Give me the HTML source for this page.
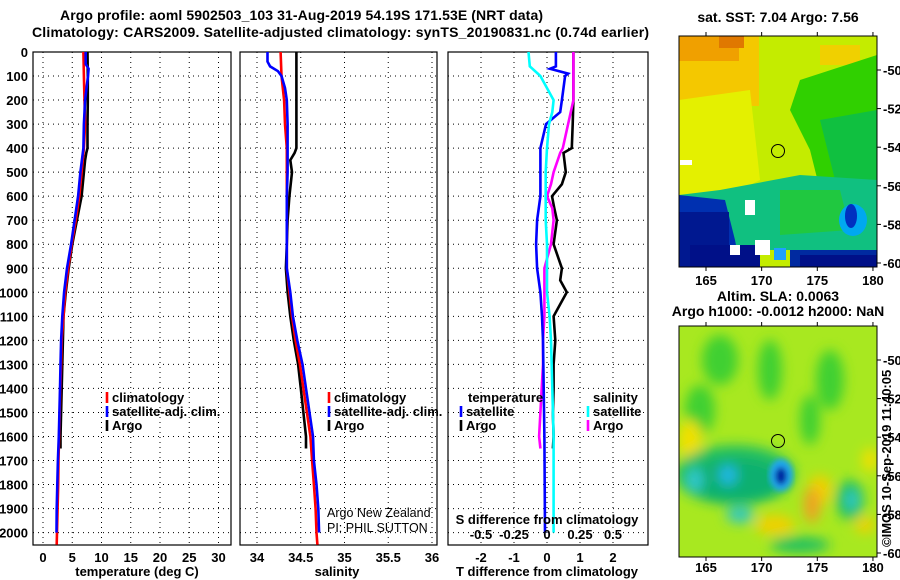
<!DOCTYPE html>
<html><head><meta charset="utf-8">
<style>
html,body{margin:0;padding:0;background:#fff;}
svg{display:block;font-family:"Liberation Sans",sans-serif;}
.t{font-weight:bold;font-size:13px;}
.ttl{font-weight:bold;font-size:14px;}
.grid{stroke:#000;stroke-width:1;stroke-dasharray:1,4;}
</style></head>
<body>
<svg id="chart" width="900" height="580" viewBox="0 0 900 580">
  <defs>
    <filter id="blur3"><feGaussianBlur stdDeviation="3"/></filter>
    <filter id="blur6"><feGaussianBlur stdDeviation="6"/></filter>
    <clipPath id="m1c"><rect x="679" y="36" width="198" height="231"/></clipPath>
    <clipPath id="m2c"><rect x="679" y="326" width="198" height="231"/></clipPath>
  </defs>
  <text class="ttl" x="60" y="20" textLength="483">Argo profile: aoml 5902503_103 31-Aug-2019 54.19S 171.53E (NRT data)</text>
  <text class="ttl" x="32" y="37" textLength="617">Climatology: CARS2009. Satellite-adjusted climatology: synTS_20190831.nc (0.74d earlier)</text>

  <g id="p1"></g>
  <g id="p2"></g>
  <g id="p3"></g>

  <!-- SST map -->
  <g>
    <text class="ttl" x="778" y="22" text-anchor="middle" font-size="13">sat. SST: 7.04 Argo: 7.56</text>
    <g clip-path="url(#m1c)">
      <rect x="679" y="36" width="198" height="231" fill="#c4ec00"/>
      <rect x="679" y="36" width="80" height="70" fill="#f4c800"/>
      <rect x="679" y="36" width="60" height="25" fill="#f0a000"/>
      <rect x="719" y="36" width="25" height="12" fill="#e07800"/>
      <rect x="820" y="45" width="40" height="20" fill="#f0d000"/>
      <polygon points="679,100 750,90 760,180 720,200 679,200" fill="#e4f000"/>
      <polygon points="800,80 877,55 877,230 830,230 810,150 790,110" fill="#30d000"/>
      <polygon points="820,120 877,110 877,180 840,200" fill="#10c040"/>
      <polygon points="679,195 720,190 800,175 877,180 877,250 679,250" fill="#10c080"/>
      <polygon points="780,190 840,190 850,230 780,235" fill="#20c840"/>
      <polygon points="679,195 725,200 735,240 740,267 679,267" fill="#0030b0"/>
      <rect x="679" y="212" width="50" height="55" fill="#001890"/>
      <rect x="690" y="245" width="70" height="22" fill="#001088"/>
      <rect x="790" y="250" width="87" height="17" fill="#002aa0"/>
      <rect x="800" y="255" width="77" height="12" fill="#001088"/>
      <ellipse cx="853" cy="220" rx="14" ry="16" fill="#00a8f0"/>
      <ellipse cx="851" cy="216" rx="6" ry="12" fill="#0030c0"/>
      <rect x="774" y="248" width="12" height="12" fill="#20a0ff"/>
      <rect x="745" y="200" width="10" height="15" fill="#fff"/>
      <rect x="755" y="240" width="15" height="15" fill="#fff"/>
      <rect x="680" y="160" width="12" height="5" fill="#fff"/>
      <rect x="730" y="245" width="10" height="10" fill="#fff"/>
    </g>
    <rect x="679" y="36" width="198" height="231" fill="none" stroke="#000"/>
    <circle cx="778" cy="151" r="6.5" fill="none" stroke="#000"/>
  </g>
  <!-- SLA map -->
  <g>
    <text class="ttl" x="778" y="301" text-anchor="middle" font-size="13">Altim. SLA: 0.0063</text>
    <text class="ttl" x="778" y="316" text-anchor="middle" font-size="13">Argo h1000: -0.0012 h2000: NaN</text>
    <g clip-path="url(#m2c)">
      <rect x="679" y="326" width="198" height="231" fill="#a8e820"/>
      <g filter="url(#blur6)">
        <ellipse cx="720" cy="360" rx="18" ry="25" fill="#40d030"/>
        <ellipse cx="770" cy="370" rx="12" ry="30" fill="#40d030"/>
        <ellipse cx="830" cy="380" rx="14" ry="30" fill="#40d030"/>
        <ellipse cx="700" cy="410" rx="15" ry="25" fill="#40d030"/>
        <ellipse cx="810" cy="420" rx="10" ry="25" fill="#40d030"/>
        <ellipse cx="690" cy="440" rx="12" ry="20" fill="#f0e000"/>
        <ellipse cx="735" cy="475" rx="60" ry="30" fill="#20c060"/>
        <ellipse cx="735" cy="480" rx="48" ry="22" fill="#10b070"/>
        <ellipse cx="695" cy="480" rx="8" ry="12" fill="#30c8d0"/>
        <ellipse cx="728" cy="475" rx="9" ry="10" fill="#20b8e8"/>
        <ellipse cx="740" cy="515" rx="14" ry="8" fill="#30c8c0"/>
        <ellipse cx="820" cy="490" rx="12" ry="15" fill="#f0d000"/>
        <ellipse cx="812" cy="505" rx="8" ry="18" fill="#f0a020"/>
        <ellipse cx="850" cy="500" rx="14" ry="20" fill="#20c060"/>
        <ellipse cx="852" cy="500" rx="6" ry="10" fill="#30c8d0"/>
        <ellipse cx="775" cy="525" rx="20" ry="10" fill="#f0d000"/>
        <ellipse cx="800" cy="545" rx="30" ry="8" fill="#20c060"/>
        <ellipse cx="870" cy="460" rx="8" ry="12" fill="#f0e000"/>
        <ellipse cx="865" cy="525" rx="10" ry="8" fill="#f0d000"/>
      </g>
      <g filter="url(#blur3)">
        <ellipse cx="781" cy="475" rx="12" ry="16" fill="#20a8f0"/>
        <ellipse cx="781" cy="476" rx="6" ry="9" fill="#0020a0"/>
      </g>
    </g>
    <rect x="679" y="326" width="198" height="231" fill="none" stroke="#000"/>
    <circle cx="778" cy="441" r="6.5" fill="none" stroke="#000"/>
  </g>
  <g id="maps-axes"></g>
  <text class="t" font-size="12" transform="translate(891,547) rotate(-90)">©IMOS 10-Sep-2019 11:40:05</text>
</svg>
<script>
// ---- data ----
const tClimDepth = [0,100,200,300,400,500,600,700,800,900,1000,1100,1200,1300,1400,1500,1600,1700,1800,1900,2000,2050];
const tClim = [6.9,7.0,7.1,7.2,7.0,6.6,6.2,5.6,4.9,4.3,3.8,3.5,3.2,3.1,2.95,2.85,2.75,2.65,2.6,2.5,2.4,2.35];
const tSatDepth = [0,50,70,100,200,300,400,500,600,700,800,900,1000,1100,1200,1300,1400,1500,1600,1700,1800,1900,2000];
const tSat = [7.3,7.3,7.8,7.7,7.2,7.0,6.9,6.4,6.0,5.4,4.8,4.1,3.6,3.3,3.1,3.0,2.9,2.8,2.7,2.55,2.45,2.35,2.3];
const argoDepth = [0,100,200,300,400,420,450,500,600,700,800,900,1000,1100,1200,1300,1400,1500,1600,1650];
const tArgo = [7.6,7.65,7.65,7.6,7.6,7.4,7.2,7.0,6.6,5.8,5.0,4.4,3.9,3.5,3.4,3.3,3.2,3.1,3.0,3.0];
const sClim = [34.27,34.28,34.31,34.32,34.34,34.34,34.34,34.34,34.34,34.34,34.37,34.40,34.44,34.49,34.53,34.57,34.61,34.63,34.65,34.67,34.68,34.69];
const sSatDepth = [0,40,60,80,100,150,200,300,400,500,600,700,800,900,1000,1100,1200,1300,1400,1500,1600,1700,1800,1900,2000];
const sSat = [34.12,34.12,34.15,34.24,34.28,34.32,34.34,34.35,34.35,34.35,34.34,34.34,34.34,34.34,34.38,34.41,34.46,34.52,34.56,34.60,34.64,34.65,34.68,34.70,34.71];
const sArgo = [34.45,34.45,34.45,34.45,34.45,34.43,34.38,34.40,34.37,34.35,34.34,34.33,34.35,34.38,34.42,34.47,34.50,34.53,34.56,34.56];
const dArgoDepth = [0,100,200,300,400,420,500,550,600,650,700,800,900,950,1000,1050,1100,1200,1300,1400,1500,1600,1650];
const dtArgo = [0.8,0.8,0.8,0.78,0.75,0.5,0.57,0.45,0.15,0.22,0.3,0.2,0.45,0.4,0.6,0.4,0.2,0.25,0.2,0.2,0.18,0.2,0.18];
const dsArgo = [0.2,0.2,0.2,0.16,0.12,0.1,0.05,0.03,0.0,0.04,0.05,0.03,-0.02,-0.02,-0.02,-0.02,-0.02,-0.03,-0.03,-0.04,-0.05,-0.06,-0.05];
const dSatDepth = [0,60,70,90,100,200,250,300,400,500,600,700,800,900,1000,1100,1200,1400,1600,1800,2000];
const dtSat = [0.27,0.27,0.09,0.64,0.55,0.45,0.4,-0.03,-0.2,-0.2,-0.2,-0.3,-0.33,-0.3,-0.2,-0.15,-0.12,-0.1,-0.08,-0.07,-0.06];
const dsSat = [-0.14,-0.13,-0.11,-0.07,-0.05,0.05,0.04,0.015,0.0,-0.01,-0.01,-0.01,0.0,0.0,0.0,0.02,0.03,0.04,0.05,0.05,0.05];
const depthTicks = [0,100,200,300,400,500,600,700,800,900,1000,1100,1200,1300,1400,1500,1600,1700,1800,1900,2000];
const tTicks = [0,5,10,15,20,25,30];
const sTicks = [34,34.5,35,35.5,36];
const sTickLabels = ['34','34.5','35','35.5','36'];
const dtTicks = [-2,-1,0,1,2];
const dsTicks = [-0.5,-0.25,0,0.25,0.5];
const dsTickLabels = ['-0.5','-0.25','0','0.25','0.5'];
const lonTicks = [165,170,175,180];
const latTicks = [-50,-52,-54,-56,-58,-60];

// ---- helpers ----
const NS = 'http://www.w3.org/2000/svg';
function mk(tag, attrs, parent, txt){
  const e = document.createElementNS(NS, tag);
  for (const k in attrs) e.setAttribute(k, attrs[k]);
  if (txt !== undefined) e.textContent = txt;
  parent.appendChild(e);
  return e;
}
const TOP = 52, BOT = 545;
const yD = d => TOP + d * 0.2403;
const xT = v => 43 + v * 5.85;
const xS = v => 257 + (v - 34) * 87.5;
const xDT = v => 547 + v * 33;
const xDS = v => 547 + v * 132;

function frame(g, x0, x1, xticks, xf, labels, name){
  depthTicks.forEach(d => {
    const l = mk('line', {x1:x0, x2:x1, y1:yD(d), y2:yD(d), class:'grid'}, g);
    
    
  });
  xticks.forEach((v,i) => {
    const l = mk('line', {x1:xf(v), x2:xf(v), y1:TOP, y2:BOT, class:'grid'}, g);
    
    
    if (labels) {
      const t = mk('text', {x:xf(v), y:562, class:'t', 'text-anchor':'middle'}, g, labels[i]);
      
      
    }
  });
  const r = mk('rect', {x:x0, y:TOP, width:x1-x0, height:BOT-TOP, fill:'none', stroke:'#000', 'stroke-width':1.2}, g);
  
  
}
function line(g, depths, vals, xf, color, name){
  const pts = depths.map((d,i) => xf(vals[i]).toFixed(1) + ',' + yD(d).toFixed(1)).join(' ');
  const p = mk('polyline', {points:pts, fill:'none', stroke:color, 'stroke-width':2.6, 'stroke-linejoin':'miter'}, g);
  
  
}
function legend(g, x, y, color, label, name){
  const l = mk('line', {x1:x, x2:x, y1:y-10, y2:y+1, stroke:color, 'stroke-width':2.6}, g);
  
  
  const t = mk('text', {x:x+5, y:y, class:'t', 'font-size':'12.5'}, g, label);
  
  
}

// ---- temperature panel ----
const p1 = document.getElementById('p1');
frame(p1, 33, 231, tTicks, xT, tTicks.map(String), 'temperature');
depthTicks.forEach(d => {
  const t = mk('text', {x:28, y:yD(d)+5, class:'t', 'text-anchor':'end'}, p1, String(d));
  
  
});
line(p1, argoDepth, tArgo, xT, '#000', 'temperature-argo-line');
line(p1, tClimDepth, tClim, xT, '#f00', 'temperature-climatology-line');
line(p1, tSatDepth, tSat, xT, '#00f', 'temperature-satellite-line');
legend(p1, 107, 402, '#f00', 'climatology', 'legend-climatology');
legend(p1, 107, 416, '#00f', 'satellite-adj. clim.', 'legend-satellite');
legend(p1, 107, 430, '#000', 'Argo', 'legend-argo');
const xt1 = mk('text', {x:137, y:576, class:'t', 'text-anchor':'middle'}, p1, 'temperature (deg C)');



// ---- salinity panel ----
const p2 = document.getElementById('p2');
frame(p2, 240, 437, sTicks, xS, sTickLabels, 'salinity');
line(p2, argoDepth, sArgo, xS, '#000', 'salinity-argo-line');
line(p2, tClimDepth, sClim, xS, '#f00', 'salinity-climatology-line');
line(p2, sSatDepth, sSat, xS, '#00f', 'salinity-satellite-line');
legend(p2, 329, 402, '#f00', 'climatology', 'legend-s-climatology');
legend(p2, 329, 416, '#00f', 'satellite-adj. clim.', 'legend-s-satellite');
legend(p2, 329, 430, '#000', 'Argo', 'legend-s-argo');
const c1 = mk('text', {x:327, y:517, 'font-size':'12.5'}, p2, 'Argo New Zealand');


const c2 = mk('text', {x:327, y:532, 'font-size':'12.5'}, p2, 'PI: PHIL SUTTON');


const xt2 = mk('text', {x:337, y:576, class:'t', 'text-anchor':'middle'}, p2, 'salinity');



// ---- difference panel ----
const p3 = document.getElementById('p3');
frame(p3, 448, 648, dtTicks, xDT, dtTicks.map(String), 'difference');
line(p3, dArgoDepth, dtArgo, xDT, '#000', 'tdiff-argo-line');
line(p3, dArgoDepth, dsArgo, xDS, '#f0f', 'sdiff-argo-line');
line(p3, dSatDepth, dtSat, xDT, '#00f', 'tdiff-satellite-line');
line(p3, dSatDepth, dsSat, xDS, '#0ff', 'sdiff-satellite-line');
const lt = mk('text', {x:468, y:402, class:'t', 'font-size':'12.5'}, p3, 'temperature');


legend(p3, 461, 416, '#00f', 'satellite', 'legend-t-satellite');
legend(p3, 461, 430, '#000', 'Argo', 'legend-t-argo');
const ls = mk('text', {x:593, y:402, class:'t', 'font-size':'12.5'}, p3, 'salinity');


legend(p3, 588, 416, '#0ff', 'satellite', 'legend-sd-satellite');
legend(p3, 588, 430, '#f0f', 'Argo', 'legend-sd-argo');
const sdt = mk('text', {x:547, y:524, class:'t', 'text-anchor':'middle'}, p3, 'S difference from climatology');


dsTicks.forEach((v,i) => {
  const t = mk('text', {x:xDS(v), y:539, class:'t', 'text-anchor':'middle'}, p3, dsTickLabels[i]);
  
  
});
const xt3 = mk('text', {x:547, y:576, class:'t', 'text-anchor':'middle'}, p3, 'T difference from climatology');



// ---- map axes ----
const ma = document.getElementById('maps-axes');
const xLon = v => 706 + (v - 165) * 11.13;
[[36,267,70,285],[326,557,360,572]].forEach(([top,bot,y50,ly],mi) => {
  lonTicks.forEach(v => {
    mk('line', {x1:xLon(v), x2:xLon(v), y1:top, y2:top-4, stroke:'#000'}, ma);
    mk('line', {x1:xLon(v), x2:xLon(v), y1:bot, y2:bot+4, stroke:'#000'}, ma);
    const t = mk('text', {x:xLon(v), y:ly, class:'t', 'text-anchor':'middle'}, ma, String(v));
    
    
  });
  latTicks.forEach(v => {
    const y = y50 + (-50 - v) * 19.3;
    mk('line', {x1:877, x2:881, y1:y, y2:y, stroke:'#000'}, ma);
    const t = mk('text', {x:883, y:y+5, class:'t', 'font-size':'12'}, ma, String(v));
    
    
  });
});
</script>
</body></html>
